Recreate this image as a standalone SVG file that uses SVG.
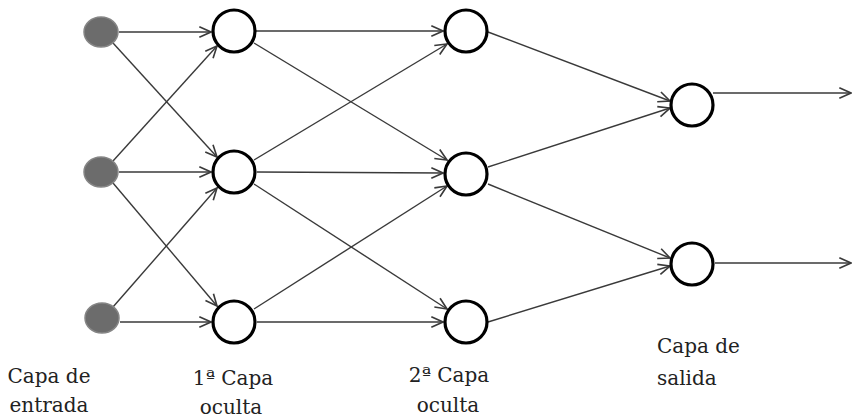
<svg xmlns="http://www.w3.org/2000/svg" width="853" height="418" viewBox="0 0 853 418">
<style>
.c{stroke:#3a3a3a;stroke-width:1.4;fill:none;marker-end:url(#ah)}
.n{fill:#fff;stroke:#000;stroke-width:3.2}
.i{fill:#6c6c6c;stroke:#858585;stroke-width:1.5}
.t{font-family:'DejaVu Serif','Liberation Serif',serif;font-size:20px;fill:#222}
</style>
<defs>
<marker id="ah" markerUnits="userSpaceOnUse" markerWidth="14" markerHeight="14" viewBox="0 0 12 12" refX="11" refY="6" orient="auto">
<path d="M1,1.5 L11,6 L1,10.5" fill="none" stroke="#3a3a3a" stroke-width="1.4"/>
</marker>
</defs>
<rect width="853" height="418" fill="#fff"/>
<g id="connectors">
<line class="c" x1="119" y1="32" x2="211" y2="32"/>
<line class="c" x1="113" y1="43" x2="217" y2="157"/>
<line class="c" x1="113" y1="161" x2="217" y2="46"/>
<line class="c" x1="119" y1="172" x2="211" y2="172"/>
<line class="c" x1="113" y1="183" x2="217" y2="306"/>
<line class="c" x1="113" y1="307" x2="217" y2="188"/>
<line class="c" x1="120" y1="322" x2="211" y2="322"/>
<line class="c" x1="256" y1="31" x2="443" y2="31"/>
<line class="c" x1="254" y1="43" x2="447" y2="160"/>
<line class="c" x1="254" y1="160" x2="447" y2="44"/>
<line class="c" x1="257" y1="172" x2="443" y2="173"/>
<line class="c" x1="254" y1="184" x2="447" y2="309"/>
<line class="c" x1="254" y1="309" x2="447" y2="186"/>
<line class="c" x1="257" y1="322" x2="443" y2="322"/>
<line class="c" x1="488" y1="32" x2="670" y2="101"/>
<line class="c" x1="488" y1="167" x2="670" y2="108"/>
<line class="c" x1="488" y1="184" x2="670" y2="258"/>
<line class="c" x1="488" y1="322" x2="670" y2="266"/>
<line class="c" x1="713" y1="93" x2="851" y2="93"/>
<line class="c" x1="715" y1="263" x2="851" y2="263"/>
</g>
<g id="in1"><ellipse class="i" cx="101" cy="32" rx="17" ry="15"/></g>
<g id="in2"><ellipse class="i" cx="101" cy="172" rx="17" ry="15"/></g>
<g id="in3"><ellipse class="i" cx="102" cy="318" rx="17" ry="15"/></g>
<g id="h1a"><circle class="n" cx="234" cy="31" r="21"/></g>
<g id="h1b"><circle class="n" cx="234" cy="172" r="21"/></g>
<g id="h1c"><circle class="n" cx="234" cy="322" r="21"/></g>
<g id="h2a"><circle class="n" cx="466" cy="31" r="21"/></g>
<g id="h2b"><circle class="n" cx="466" cy="174" r="21"/></g>
<g id="h2c"><circle class="n" cx="466" cy="322" r="21"/></g>
<g id="o1"><circle class="n" cx="692" cy="105" r="21"/></g>
<g id="o2"><circle class="n" cx="692" cy="264" r="21"/></g>
<g id="labels">
<text class="t" x="49" y="383" text-anchor="middle">Capa de</text>
<text class="t" x="49" y="412" text-anchor="middle">entrada</text>
<text class="t" x="233" y="385" text-anchor="middle">1ª Capa</text>
<text class="t" x="231" y="414" text-anchor="middle">oculta</text>
<text class="t" x="449" y="382" text-anchor="middle">2ª Capa</text>
<text class="t" x="448" y="412" text-anchor="middle">oculta</text>
<text class="t" x="657" y="353">Capa de</text>
<text class="t" x="657" y="385">salida</text>
</g>
</svg>
